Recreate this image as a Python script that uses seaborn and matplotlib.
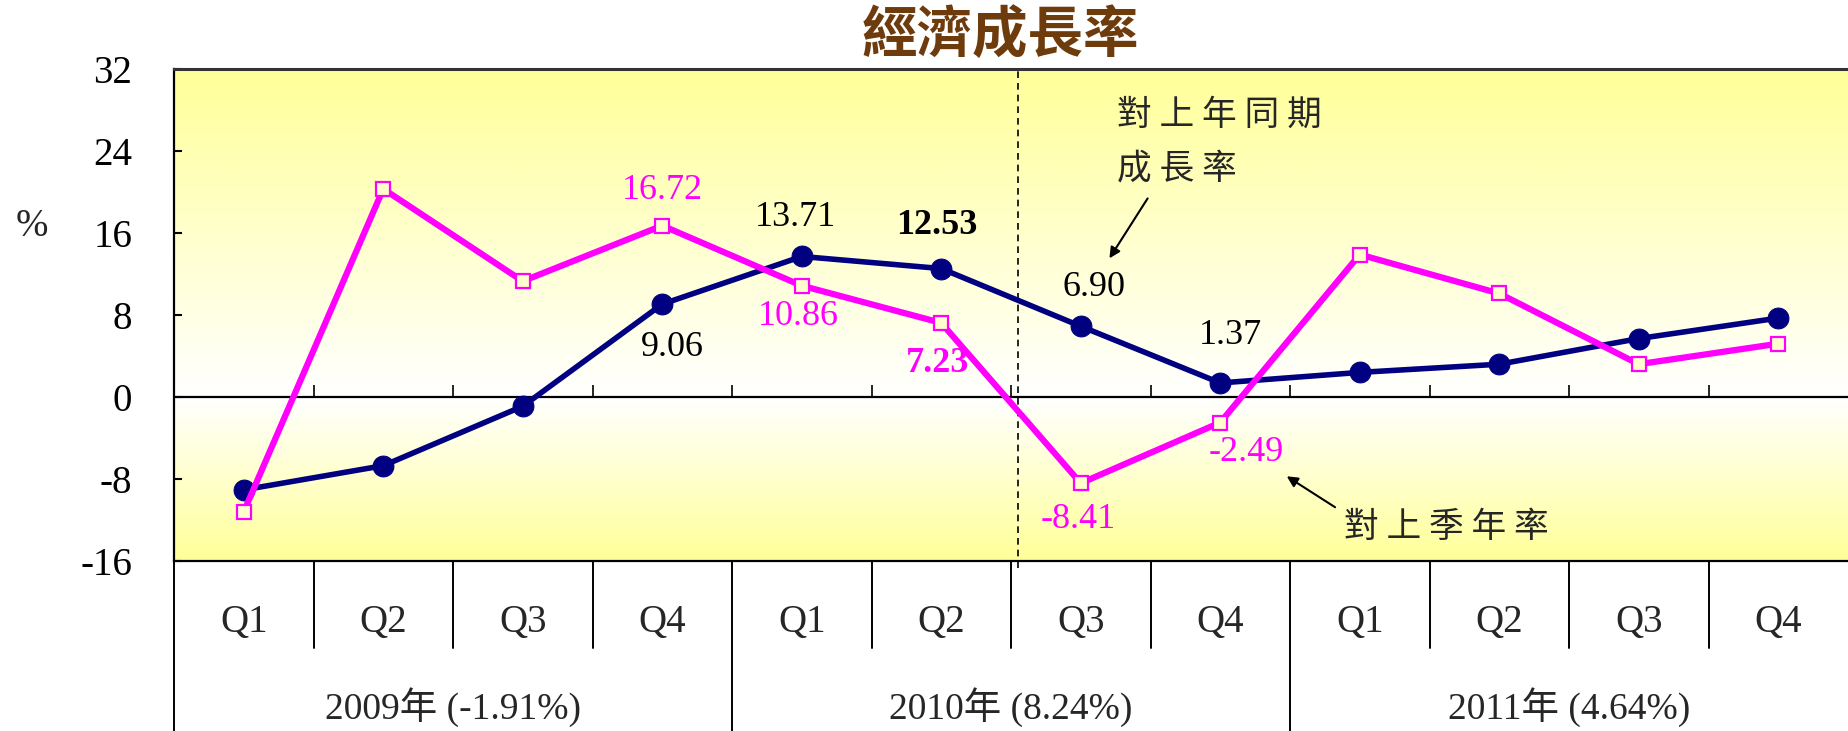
"""Taiwan economic growth rate 2009-2011: yoy vs. quarterly annualised (saar)."""

import matplotlib

matplotlib.use("Agg")
import matplotlib.pyplot as plt
import numpy as np
import pandas as pd
import seaborn as sns
from matplotlib.colors import LinearSegmentedColormap
from matplotlib.transforms import blended_transform_factory

TITLE = "經濟成長率"
QUARTERS = ["Q1", "Q2", "Q3", "Q4"] * 3
YEAR_LABELS = ["2009年 (-1.91%)", "2010年 (8.24%)", "2011年 (4.64%)"]
# 對上年同期成長率
YOY = [-9.06, -6.70, -0.90, 9.06, 13.71, 12.53, 6.90, 1.37, 2.40, 3.20, 5.70, 7.70]
# 對上季年率
SAAR = [-11.20, 20.30, 11.30, 16.72, 10.86, 7.23, -8.41, -2.49, 13.90, 10.10, 3.20, 5.20]
YTICKS = [-16, -8, 0, 8, 16, 24, 32]

BLUE = "#000080"
MAGENTA = "#FF00FF"
BROWN = "#6E3C0C"
SERIF = ["Liberation Serif", "Noto Sans CJK TC"]
CJK = ["Noto Sans CJK TC", "DejaVu Sans"]

# value labels: (series, index, offset in px, bold)
LABELS = [
    ("yoy", 3, (10, -43), False),
    ("yoy", 4, (-6, 39), False),
    ("yoy", 5, (-4, 43), True),
    ("yoy", 6, (13, 39), False),
    ("yoy", 7, (10, 47), False),
    ("saar", 3, (0, 35), False),
    ("saar", 4, (-3, -31), False),
    ("saar", 5, (-4, -41), True),
    ("saar", 6, (-3, -36), False),
    ("saar", 7, (26, -30), False),
]


def main():
    sns.set_theme(style="white")
    plt.rcParams["font.family"] = SERIF
    plt.rcParams["axes.unicode_minus"] = False

    df = pd.DataFrame({"pos": np.arange(len(QUARTERS)), "yoy": YOY, "saar": SAAR})

    fig = plt.figure(figsize=(18.48, 7.31), dpi=100)
    ax = fig.add_axes([174 / 1848, 170 / 731, 1674 / 1848, 492 / 731])
    n = len(QUARTERS)
    ymin, ymax = YTICKS[0], YTICKS[-1]

    # yellow -> white -> yellow background
    yy = np.linspace(ymax, ymin, 481)
    shade = np.where(yy > 0, yy / ymax, yy / ymin)
    cmap = LinearSegmentedColormap.from_list("bg", ["#FFFFFF", "#FFFF99"])
    ax.imshow(shade[:, None], extent=(-0.5, n - 0.5, ymin, ymax), aspect="auto",
              cmap=cmap, vmin=0, vmax=1, zorder=0, interpolation="bilinear")

    ax.axhline(0, color="black", lw=1.6, zorder=2)
    ax.vlines(np.arange(0.5, n - 0.5), 0, 1.2, color="black", lw=1.2, zorder=2)
    ax.axvline(5.55, ymin=-0.015, ymax=1, color="black", lw=1.2,
               ls=(0, (4, 3)), clip_on=False, zorder=2)

    sns.lineplot(data=df, x="pos", y="yoy", color=BLUE, lw=4, marker="o",
                 markersize=15, markeredgecolor=BLUE, markerfacecolor=BLUE,
                 ax=ax, zorder=3)
    sns.lineplot(data=df, x="pos", y="saar", color=MAGENTA, lw=4.5, marker="s",
                 markersize=10, markeredgecolor=MAGENTA, markerfacecolor="#FFFFCC",
                 markeredgewidth=1.6, ax=ax, zorder=4)

    series = {"yoy": (YOY, "black"), "saar": (SAAR, MAGENTA)}
    for key, i, off, bold in LABELS:
        vals, col = series[key]
        ax.annotate(f"{vals[i]:.2f}", xy=(i, vals[i]), xytext=off,
                    textcoords="offset pixels", ha="center", va="center",
                    fontsize=26, color=col, weight="bold" if bold else "normal",
                    zorder=5)

    # callouts
    ax.text(6.26, 27.45, "對 上 年 同 期", family=CJK, fontsize=25,
            ha="left", va="center", zorder=5)
    ax.text(6.26, 22.25, "成 長 率", family=CJK, fontsize=25,
            ha="left", va="center", zorder=5)
    ax.annotate("", xy=(6.195, 13.3), xytext=(6.49, 19.6),
                arrowprops=dict(arrowstyle="-|>", color="black", lw=1.5,
                                mutation_scale=16), zorder=5)
    ax.text(7.887, -12.69, "對 上 季 年 率", family=CJK, fontsize=25,
            ha="left", va="center", zorder=5)
    ax.annotate("", xy=(7.46, -7.59), xytext=(7.84, -10.9),
                arrowprops=dict(arrowstyle="-|>", color="black", lw=1.5,
                                mutation_scale=16), zorder=5)

    ax.set_xlim(-0.5, n - 0.5)
    ax.set_ylim(ymin, ymax)
    ax.set_yticks(YTICKS)
    ax.set_xticks([])
    ax.set_xlabel("")
    ax.set_ylabel("")
    ax.tick_params(axis="y", direction="in", length=6, width=1.5, pad=30,
                   labelsize=28, left=True, colors="black")

    for side in ("left", "bottom"):
        ax.spines[side].set_color("black")
        ax.spines[side].set_linewidth(1.6)
    ax.spines["top"].set_color("#333333")
    ax.spines["top"].set_linewidth(2.2)
    ax.spines["right"].set_visible(False)

    # category table below the plot
    trans = blended_transform_factory(ax.transData, ax.transAxes)
    bottom = -0.3455
    ax.plot([-0.5, -0.5], [0, bottom], transform=trans, color="black", lw=1.4,
            clip_on=False)
    for b in np.arange(0.5, n - 0.5):
        low = bottom if (b + 0.5) % 4 == 0 else -0.177
        ax.plot([b, b], [0, low], transform=trans, color="black", lw=1.4,
                clip_on=False)
    for i, q in enumerate(QUARTERS):
        ax.text(i, -0.126, q, transform=trans, ha="center", va="center",
                fontsize=28)
    for k, lab in enumerate(YEAR_LABELS):
        ax.text(4 * k + 1.5, -0.297, lab, transform=trans, ha="center",
                va="center", fontsize=27, family=SERIF)

    fig.text(32 / 1848, 1 - 226 / 731, "%", ha="center", va="center", fontsize=28)
    fig.text(1000 / 1848, 1 - 36 / 731, TITLE, ha="center", va="center",
             fontsize=40, weight="bold", color=BROWN, family=CJK)

    fig.savefig("out.png", dpi=100)


if __name__ == "__main__":
    main()
